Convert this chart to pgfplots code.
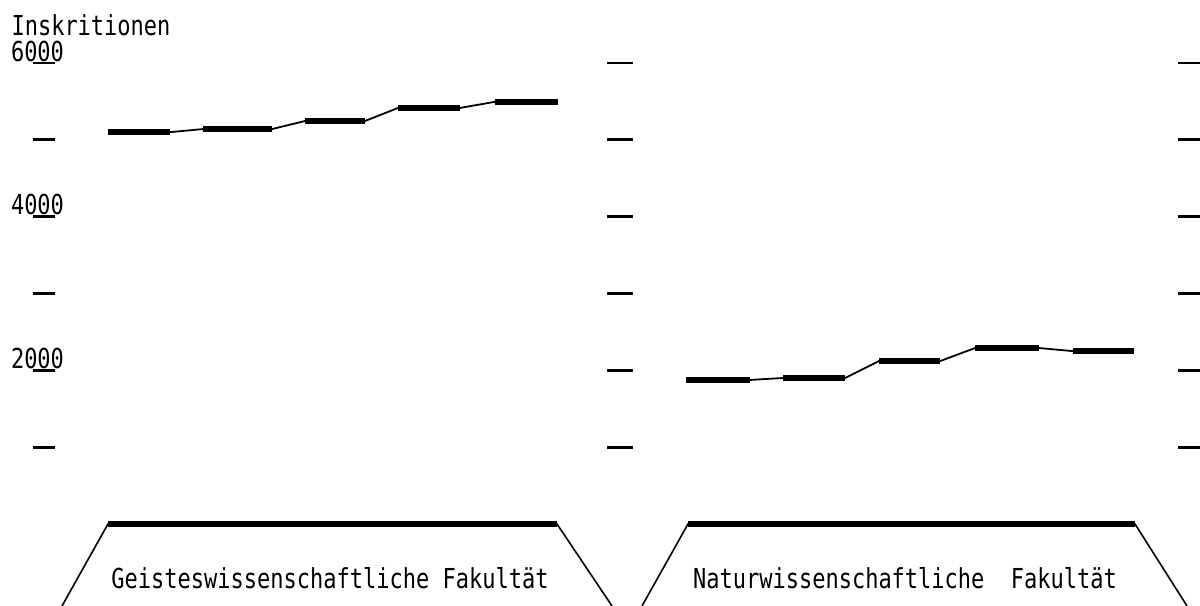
\documentclass[border=0pt]{standalone}
\usepackage{fontspec}
\setmainfont{DejaVu Sans Mono}[FakeStretch=0.8]
\usepackage{pgfplots}
\usepackage{pgfplotstable}
\pgfplotsset{compat=1.18}

% x in pixel units of the panel, y in Inskriptionen; nan rows split the thick bars
\pgfplotstableread{
x y
108 5100
170 5100
186 nan
203 5140
272 5140
288 nan
305 5245
365 5245
381 nan
398 5415
460 5415
477 nan
495 5495
558 5495
}\geist
\pgfplotstableread{
x y
686 1875
750 1875
766 nan
783 1900
845 1900
862 nan
879 2120
940 2120
957 nan
975 2290
1039 2290
1056 nan
1073 2250
1134 2250
}\natur

\pgfplotsset{
  base/.style={width=600pt, height=303pt, scale only axis,
    ymin=-1067, ymax=6820, at={(0,0)}, anchor=south west},
  ticks/.style={base, axis y line=center, axis x line=none,
    axis line style={draw=none}, tick align=center,
    tick style={black, line width=1.4pt},
    major tick length=#1, minor tick length=#1},
}

\begin{document}
\fontsize{13.75}{16}\selectfont
\begin{tikzpicture}
\begin{axis}[base, name=main, xmin=0, xmax=1200, hide axis, clip=false]
  \addplot[black, line width=0.9pt, unbounded coords=discard] table {\geist};
  \addplot[black, line width=3pt, unbounded coords=jump] table {\geist};
  \addplot[black, line width=0.9pt, unbounded coords=discard] table {\natur};
  \addplot[black, line width=3pt, unbounded coords=jump] table {\natur};
  % Grundlinien und Trapeze
  \addplot[black, line width=0.8pt] coordinates {(62,-1067) (108,0) (557,0) (612,-1067)};
  \addplot[black, line width=3pt] coordinates {(108,0) (557,0)};
  \addplot[black, line width=0.8pt] coordinates {(642,-1067) (688,0) (1135,0) (1187,-1067)};
  \addplot[black, line width=3pt] coordinates {(688,0) (1135,0)};
  \node at (axis cs:330,-703) {Geisteswissenschaftliche Fakultät};
  \node at (axis cs:905,-703) {Naturwissenschaftliche\ \ Fakultät};
  \node at (axis cs:91,6495) {Inskritionen};
\end{axis}
\begin{axis}[ticks=11pt, xmin=-44, xmax=1156,
    ytick={2000,4000,6000}, yticklabels={2000,4000,6000},
    minor ytick={1000,3000,5000},
    yticklabel style={anchor=south, inner sep=0pt, xshift=2.25pt, yshift=0.5pt}]
\end{axis}
\begin{axis}[ticks=13pt, xmin=-620, xmax=580,
    ytick={1000,2000,...,6000}, yticklabel=\empty]
\end{axis}
\begin{axis}[ticks=11pt, xmin=-1189, xmax=11,
    ytick={1000,2000,...,6000}, yticklabel=\empty]
\end{axis}
\pgfresetboundingbox
\path (main.south west) rectangle (main.north east);
\end{tikzpicture}
\end{document}
